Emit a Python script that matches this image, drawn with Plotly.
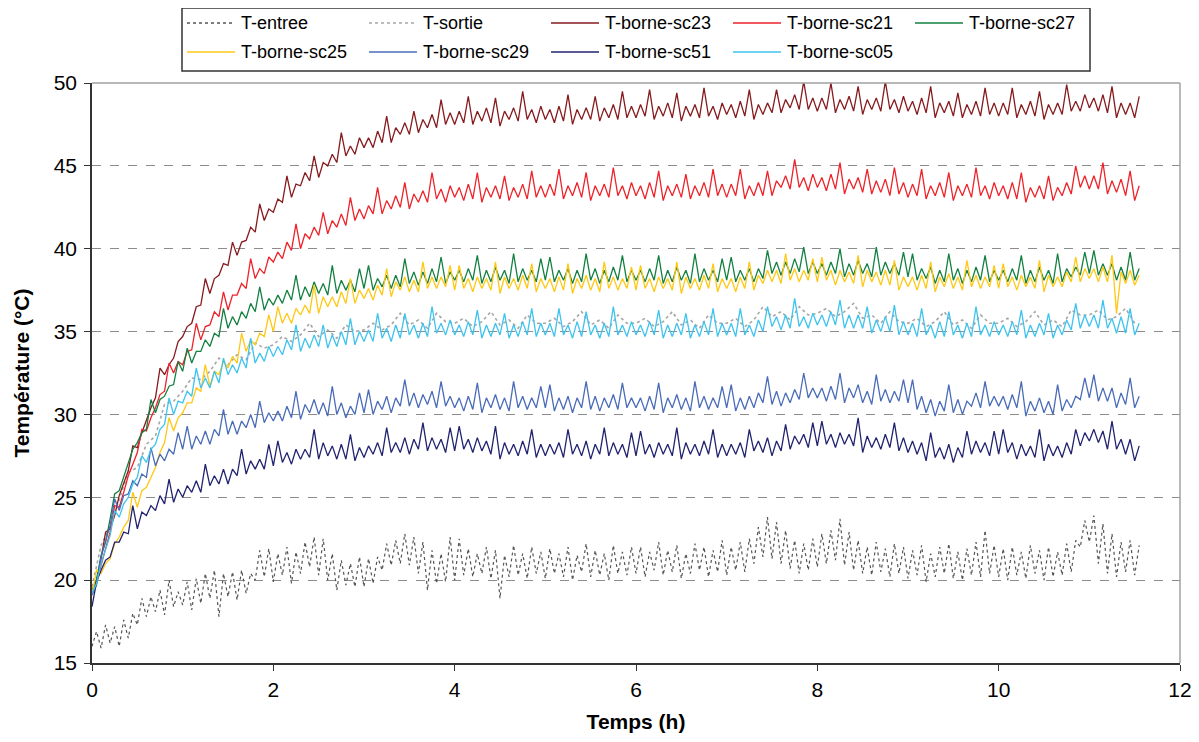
import plotly.graph_objects as go

# sampling times (hours), one reading cycle every 0.1 h from 0 to 11.5
hours = [i / 10 for i in range(116)]

# Each probe oscillates within every cycle: trough (low) then peak (high) values read per cycle
sc23_low = [19.2,21.3,23.1,25.1,26.6,28.0,29.7,31.0,32.4,33.4,
            34.7,35.5,36.6,37.3,38.4,39.0,39.6,40.5,41.0,41.7,
            42.2,42.8,43.1,43.8,44.1,44.3,45.0,45.2,45.6,45.7,
            46.1,46.1,46.4,46.4,46.9,46.9,47.0,47.3,47.3,47.5,
            47.5,47.6,47.5,47.7,47.6,47.4,47.8,47.7,47.8,47.6,
            47.8,47.6,47.7,47.5,47.8,47.8,47.7,47.9,47.8,47.9,
            47.9,48.0,47.8,48.0,47.9,47.7,48.0,47.9,48.0,47.8,
            48.1,47.9,48.0,47.8,48.1,48.2,48.2,48.5,48.4,48.4,
            48.3,48.4,48.2,48.4,48.3,48.1,48.4,48.3,48.4,48.2,
            48.3,48.1,48.2,47.9,48.2,48.0,47.9,48.1,48.0,48.1,
            48.0,48.1,47.9,48.1,48.0,47.8,48.1,48.1,48.3,48.3,
            48.5,48.3,48.2,47.9,48.1,47.9]
sc23_high = [20.0,22.9,23.9,25.9,28.1,28.9,30.4,32.8,33.0,34.4,
             35.3,36.5,38.2,38.2,39.1,40.4,40.4,41.3,42.7,42.4,
             43.0,44.4,43.9,44.6,45.6,45.2,45.7,47.0,46.2,46.7,
             46.7,47.1,48.0,47.3,47.6,48.3,47.8,48.1,49.0,48.2,
             48.3,49.2,48.3,48.5,49.1,48.3,48.5,49.5,48.4,48.6,
             48.4,48.6,49.3,48.4,48.5,49.2,48.5,48.7,49.5,48.6,
             48.7,49.6,48.6,48.8,49.4,48.6,48.7,49.7,48.6,48.8,
             48.7,48.9,49.6,48.7,48.8,49.6,49.0,49.3,50.1,49.1,
             49.1,50.0,49.0,49.2,49.8,49.0,49.1,50.1,49.0,49.2,
             48.9,49.1,49.8,48.8,48.9,49.4,48.7,48.9,49.7,48.8,
             48.8,49.7,48.7,48.9,49.5,48.7,48.8,49.9,48.9,49.3,
             49.1,49.3,49.8,48.8,48.8,49.2]

sc21_low = [19.2,20.9,22.9,24.4,26.3,27.7,29.0,30.4,31.4,32.5,
            33.0,33.9,34.5,35.4,35.9,36.3,37.2,37.6,38.2,38.5,
            39.2,39.4,39.9,40.0,40.6,40.8,40.9,41.3,41.4,41.7,
            41.8,42.1,42.1,42.4,42.5,42.4,42.8,42.8,43.0,42.8,
            43.1,42.9,43.0,42.8,43.1,43.0,42.9,43.1,43.0,43.1,
            43.1,43.2,43.0,43.2,43.1,42.9,43.2,43.1,43.2,43.0,
            43.2,43.0,43.1,42.9,43.2,43.1,43.0,43.2,43.1,43.2,
            43.1,43.2,43.0,43.2,43.2,43.2,43.7,43.6,43.7,43.5,
            43.7,43.5,43.6,43.3,43.6,43.4,43.3,43.4,43.2,43.3,
            43.1,43.2,43.0,43.2,43.1,42.9,43.2,43.1,43.2,43.0,
            43.2,43.0,43.0,42.8,43.1,43.0,42.9,43.2,43.3,43.7,
            43.6,43.6,43.3,43.4,43.2,42.9]
sc21_high = [19.8,21.9,24.5,25.3,27.0,29.1,29.8,31.2,33.1,33.2,
             33.8,35.5,35.3,36.2,37.4,37.2,37.9,39.4,38.8,39.5,
             39.8,40.4,41.5,40.9,41.3,42.2,41.7,42.1,43.1,42.4,
             42.6,43.7,42.9,43.2,44.0,43.3,43.5,44.6,43.6,43.8,
             43.7,43.9,44.6,43.7,43.8,44.4,43.7,43.9,44.7,43.8,
             43.9,44.8,43.8,44.0,44.6,43.8,43.9,44.9,43.8,44.0,
             43.8,44.0,44.7,43.8,43.9,44.5,43.8,44.0,44.8,43.9,
             43.9,44.8,43.8,44.0,44.7,44.1,44.4,45.4,44.3,44.5,
             44.3,44.5,45.2,44.2,44.3,44.8,44.1,44.2,44.9,44.0,
             43.9,44.8,43.8,44.0,44.6,43.8,43.9,44.9,43.8,44.0,
             43.8,44.0,44.6,43.7,43.8,44.4,43.7,44.0,45.0,44.4,
             44.4,45.2,44.1,44.2,44.7,43.8]

sc27_low = [19.4,21.5,23.7,25.4,27.0,28.3,29.1,30.1,31.1,31.8,
            32.6,33.1,33.8,34.1,34.7,35.2,35.4,35.8,36.2,36.3,
            36.6,36.7,36.9,36.9,37.1,37.3,37.2,37.3,37.5,37.4,
            37.6,37.5,37.7,37.6,37.7,37.9,37.8,37.9,38.0,37.9,
            38.1,38.0,38.1,37.9,38.0,38.1,37.9,38.0,38.1,38.0,
            38.1,38.0,38.1,37.9,38.0,38.1,37.9,38.0,38.1,38.0,
            38.1,38.0,38.1,37.9,38.0,38.1,37.9,38.0,38.1,38.0,
            38.1,38.0,38.1,38.0,38.2,38.5,38.4,38.5,38.6,38.5,
            38.5,38.4,38.5,38.3,38.4,38.5,38.3,38.4,38.5,38.4,
            38.3,38.1,38.2,37.9,38.0,38.1,37.9,38.0,38.1,38.0,
            38.1,38.0,38.1,37.9,38.0,38.1,37.9,38.0,38.3,38.4,
            38.5,38.4,38.4,38.1,38.1,38.1]
sc27_high = [20.0,22.3,25.2,26.2,27.9,28.9,30.9,30.9,31.7,33.2,
             34.0,33.8,34.5,34.9,36.4,35.9,36.2,36.7,37.7,37.0,
             37.2,37.5,38.4,37.7,38.0,37.9,39.0,38.1,38.1,38.8,
             39.0,38.2,38.4,38.4,39.4,38.6,38.6,38.8,39.5,38.6,
             38.7,38.8,39.6,38.7,38.9,38.7,39.7,38.8,38.7,39.4,
             39.5,38.7,38.8,38.7,39.7,38.8,38.7,38.9,39.6,38.7,
             38.7,38.8,39.6,38.7,38.9,38.7,39.7,38.8,38.7,39.4,
             39.5,38.7,38.8,38.8,39.9,39.2,39.2,39.4,40.1,39.2,
             39.1,39.2,40.0,39.1,39.3,39.1,40.1,39.2,39.1,39.8,
             39.7,38.8,38.9,38.7,39.7,38.8,38.7,38.9,39.6,38.7,
             38.7,38.8,39.6,38.7,38.9,38.7,39.7,38.8,38.9,39.8,
             39.9,39.1,39.1,38.9,39.8,38.8]

sc25_low = [19.1,20.4,21.3,22.6,23.6,24.4,25.6,26.8,28.3,29.0,
            30.1,30.7,31.4,31.7,32.4,32.8,33.1,33.8,34.2,34.7,
            35.0,35.5,35.5,36.0,36.1,36.1,36.5,36.5,36.7,36.7,
            37.0,36.9,37.2,37.1,37.5,37.4,37.4,37.6,37.6,37.7,
            37.5,37.6,37.4,37.6,37.5,37.3,37.6,37.5,37.6,37.4,
            37.6,37.4,37.5,37.3,37.6,37.5,37.4,37.6,37.5,37.6,
            37.5,37.6,37.4,37.6,37.5,37.3,37.6,37.5,37.6,37.4,
            37.6,37.4,37.6,37.5,37.9,38.0,37.9,38.1,38.0,38.1,
            38.0,38.1,37.8,38.0,37.9,37.7,38.0,37.8,37.8,37.5,
            37.7,37.5,37.6,37.4,37.7,37.6,37.5,37.7,37.6,37.7,
            37.6,37.7,37.5,37.7,37.6,37.4,37.7,37.7,38.0,38.0,
            38.2,38.0,38.0,36.1,37.9,37.8]
sc25_high = [20.6,21.0,22.2,23.2,25.3,25.4,26.2,27.7,29.8,29.8,
             30.7,31.6,33.0,32.6,33.2,33.5,34.9,34.5,34.9,36.0,
             36.5,36.1,36.4,36.6,37.8,37.1,37.1,37.4,38.2,37.5,
             37.6,37.8,38.8,38.0,38.3,38.1,39.2,38.3,38.3,39.0,
             39.0,38.2,38.3,38.2,39.2,38.3,38.2,38.4,39.1,38.2,
             38.2,38.3,39.1,38.2,38.4,38.2,39.2,38.3,38.2,38.9,
             39.0,38.2,38.3,38.2,39.2,38.3,38.2,38.4,39.1,38.2,
             38.2,38.3,39.2,38.4,38.7,38.7,39.7,38.8,38.7,39.4,
             39.5,38.7,38.7,38.6,39.6,38.7,38.6,38.7,39.3,38.3,
             38.3,38.4,39.2,38.3,38.5,38.3,39.3,38.4,38.3,39.0,
             39.1,38.3,38.4,38.3,39.3,38.4,38.3,38.6,39.5,38.8,
             38.8,38.9,39.6,38.6,38.7,38.4]

sc29_low = [19.1,21.4,23.3,24.2,25.2,25.7,26.2,26.9,27.2,27.6,
            27.9,27.9,28.2,28.2,28.7,28.8,28.8,29.2,29.2,29.5,
            29.6,29.6,29.8,29.7,30.1,30.0,29.9,30.0,29.8,30.0,
            30.1,30.0,30.3,30.1,30.5,30.5,30.4,30.6,30.4,30.5,
            30.4,30.2,30.3,30.1,30.4,30.3,30.2,30.4,30.3,30.4,
            30.4,30.2,30.3,30.1,30.4,30.3,30.2,30.4,30.3,30.4,
            30.4,30.2,30.3,30.1,30.4,30.3,30.2,30.4,30.3,30.4,
            30.4,30.2,30.3,30.4,30.7,30.6,30.5,30.7,30.9,31.0,
            31.0,30.8,30.9,30.7,31.0,30.7,30.6,30.8,30.7,30.8,
            30.7,30.3,30.1,29.9,30.2,30.1,30.0,30.5,30.4,30.5,
            30.5,30.3,30.4,29.9,30.2,30.1,30.0,30.2,30.4,30.9,
            31.0,30.8,30.8,30.4,30.6,30.4]
sc29_high = [19.7,22.3,24.9,25.1,26.0,26.4,28.0,27.6,27.9,28.9,
             29.3,28.7,29.0,29.1,30.3,29.6,29.6,30.0,30.8,30.1,
             30.2,30.5,31.4,30.6,30.9,30.7,31.7,30.7,30.5,31.3,
             31.5,30.8,31.1,31.0,32.1,31.3,31.2,31.4,32.0,31.1,
             31.0,31.1,31.9,31.0,31.2,31.0,32.0,31.1,31.0,31.7,
             31.8,31.0,31.1,31.0,32.0,31.1,31.0,31.2,31.9,31.0,
             31.0,31.1,31.9,31.0,31.2,31.0,32.0,31.1,31.0,31.7,
             31.8,31.0,31.1,31.3,32.3,31.4,31.3,31.5,32.5,31.6,
             31.6,31.7,32.5,31.6,31.8,31.4,32.4,31.5,31.4,32.1,
             32.1,31.1,30.9,30.8,31.8,30.9,30.8,31.3,32.0,31.1,
             31.1,31.2,32.0,30.8,31.0,30.8,31.8,30.9,31.1,32.2,
             32.4,31.6,31.6,31.3,32.2,31.1]

sc51_low = [18.4,20.6,21.4,22.3,22.8,23.1,23.9,24.2,24.6,24.7,
            25.0,25.3,25.3,25.7,25.8,25.8,26.3,26.4,26.7,26.7,
            26.9,27.1,27.0,27.3,27.4,27.3,27.5,27.3,27.3,27.2,
            27.4,27.6,27.5,27.7,27.7,27.6,27.9,27.8,27.9,27.7,
            27.8,27.9,27.7,27.8,27.6,27.3,27.6,27.5,27.6,27.4,
            27.5,27.6,27.4,27.6,27.5,27.3,27.6,27.5,27.6,27.4,
            27.5,27.6,27.4,27.6,27.5,27.3,27.6,27.5,27.6,27.4,
            27.5,27.6,27.4,27.8,27.7,27.5,27.8,27.9,28.2,28.0,
            28.1,28.2,28.0,28.2,28.1,27.7,28.0,27.9,28.0,27.8,
            27.7,27.6,27.2,27.4,27.3,27.1,27.4,27.6,27.7,27.5,
            27.6,27.7,27.3,27.5,27.4,27.2,27.5,27.4,27.6,28.1,
            28.4,28.3,27.9,27.9,27.6,27.2]
sc51_high = [19.9,21.2,22.3,22.9,24.5,24.1,24.5,25.1,26.1,25.5,
             25.7,26.0,27.0,26.3,26.7,26.7,27.9,27.2,27.3,28.2,
             28.4,27.7,27.9,27.9,29.1,28.3,28.1,28.2,28.8,28.0,
             28.1,28.3,29.2,28.3,28.6,28.5,29.5,28.6,28.5,29.2,
             29.3,28.5,28.6,28.4,29.3,28.3,28.2,28.4,29.1,28.2,
             28.2,28.3,29.1,28.2,28.4,28.2,29.2,28.3,28.2,28.9,
             29.0,28.2,28.3,28.2,29.2,28.3,28.2,28.4,29.1,28.2,
             28.2,28.3,29.1,28.4,28.6,28.4,29.4,28.7,28.8,29.5,
             29.6,28.8,28.9,28.8,29.8,28.7,28.6,28.8,29.5,28.6,
             28.4,28.3,28.9,28.0,28.2,28.0,29.0,28.4,28.3,29.0,
             29.1,28.3,28.2,28.1,29.1,28.2,28.1,28.3,29.1,28.9,
             29.1,29.0,29.6,28.5,28.5,28.1]

sc05_low = [19.2,21.0,22.7,23.8,25.0,26.2,27.1,28.2,29.4,30.0,
            30.7,31.1,31.6,31.6,31.9,32.4,32.5,32.8,33.1,33.2,
            33.5,33.6,33.9,33.8,34.0,34.1,34.0,34.1,34.2,34.2,
            34.4,34.4,34.6,34.4,34.6,34.8,34.6,34.7,34.9,34.8,
            34.8,34.7,34.8,34.6,34.7,34.8,34.6,34.7,34.8,34.7,
            34.8,34.7,34.8,34.6,34.7,34.8,34.6,34.7,34.8,34.7,
            34.8,34.7,34.8,34.6,34.7,34.8,34.6,34.7,34.8,34.7,
            34.8,34.7,34.8,34.7,35.0,35.3,35.1,35.2,35.3,35.2,
            35.4,35.3,35.4,35.2,35.2,35.2,34.9,35.0,35.0,34.8,
            34.8,34.7,34.8,34.6,34.7,34.8,34.6,34.7,34.8,34.7,
            34.8,34.7,34.8,34.6,34.7,34.8,34.6,34.8,35.1,35.2,
            35.3,35.2,35.2,34.9,34.9,34.8]
sc05_high = [19.8,21.9,24.2,24.6,25.8,27.5,27.9,29.1,31.0,30.8,
             31.4,32.8,32.2,32.6,33.4,33.0,33.4,34.6,33.7,34.1,
             34.1,34.5,35.4,34.6,34.8,35.4,34.8,35.0,35.8,35.0,
             35.1,36.1,35.2,35.4,36.1,35.4,35.5,36.5,35.5,35.7,
             35.4,35.6,36.3,35.4,35.5,36.1,35.4,35.6,36.4,35.5,
             35.5,36.4,35.4,35.6,36.2,35.4,35.5,36.5,35.4,35.6,
             35.4,35.6,36.3,35.4,35.5,36.1,35.4,35.6,36.4,35.5,
             35.5,36.4,35.4,35.7,36.5,35.9,36.0,37.0,35.9,36.1,
             36.0,36.2,36.9,36.0,36.0,36.5,35.7,35.9,36.6,35.6,
             35.5,36.4,35.4,35.6,36.2,35.4,35.5,36.5,35.4,35.6,
             35.4,35.6,36.3,35.4,35.5,36.1,35.4,35.7,36.7,36.0,
             36.0,36.9,35.8,35.9,36.4,35.5]

t_sortie = [19.6,22.1,23.2,24.8,26.5,26.8,28.2,28.7,30.6,30.8,
            31.4,32.2,32.1,32.6,33.4,33.0,33.6,33.3,34.3,34.0,
            34.2,34.7,34.4,34.8,35.5,34.7,35.1,34.6,35.4,35.0,
            35.1,35.5,35.1,35.4,36.1,35.4,35.7,35.2,36.1,35.6,
            35.5,35.8,35.3,35.6,36.2,35.4,35.7,35.2,36.0,35.5,
            35.5,35.8,35.3,35.6,36.2,35.4,35.7,35.2,36.0,35.5,
            35.5,35.8,35.3,35.6,36.2,35.4,35.7,35.2,36.0,35.5,
            35.5,35.8,35.3,35.7,36.5,35.9,36.2,35.7,36.5,36.0,
            36.1,36.4,35.9,36.2,36.7,35.8,36.0,35.5,36.2,35.6,
            35.5,35.8,35.3,35.6,36.2,35.4,35.7,35.2,36.0,35.5,
            35.5,35.8,35.3,35.6,36.2,35.4,35.7,35.3,36.3,36.0,
            36.0,36.3,35.7,35.9,36.4,35.5]

t_entree_low = [16.0,15.9,16.2,16.0,16.5,17.3,17.8,18.1,17.9,18.4,
                18.5,18.2,18.6,18.9,17.8,19.0,18.8,19.2,20.0,20.2,
                19.9,20.3,19.8,20.4,20.8,20.3,20.0,19.4,19.7,19.6,
                19.6,19.8,20.6,20.9,21.0,20.9,20.4,19.4,19.8,19.9,
                20.0,20.3,20.2,20.4,20.1,18.9,20.2,20.3,20.1,20.4,
                20.1,20.4,20.2,20.0,20.5,20.2,20.3,20.0,20.4,20.3,
                20.4,20.2,20.6,20.3,20.5,20.1,20.4,20.6,20.2,20.5,
                20.3,20.6,20.5,21.0,21.4,21.3,21.0,20.7,20.4,20.6,
                20.8,21.0,21.2,20.9,20.6,20.4,20.3,20.5,20.2,20.4,
                20.1,20.3,19.9,20.2,20.4,20.1,20.0,20.3,20.2,20.4,
                20.2,20.0,20.3,20.1,20.4,20.0,20.2,20.3,20.5,22.0,
                22.3,21.0,20.4,20.2,20.5,20.3]
t_entree_high = [16.9,17.3,17.2,17.6,18.0,18.9,19.0,19.4,20.0,19.3,
                 19.9,20.1,20.4,20.6,20.4,20.5,20.6,20.4,21.8,21.9,
                 21.6,22.0,21.7,22.3,22.6,22.5,21.6,21.2,21.0,21.4,
                 21.3,21.4,22.2,22.4,22.8,22.6,22.3,21.8,21.6,22.6,
                 22.5,21.9,21.6,22.0,21.8,21.5,22.1,21.6,22.0,21.7,
                 21.9,21.6,22.0,21.5,22.2,21.8,21.6,22.1,21.7,22.0,
                 22.0,21.7,22.3,21.8,22.1,21.6,22.2,22.0,21.8,22.4,
                 22.0,22.3,22.5,23.2,23.8,23.5,23.0,22.4,22.2,22.5,
                 22.8,23.0,23.7,22.9,22.4,22.0,22.3,21.9,22.2,22.0,
                 21.8,22.1,21.6,22.0,22.2,21.7,21.9,22.3,23.0,22.1,
                 21.9,22.0,21.7,22.1,21.8,22.0,21.7,22.2,22.4,23.6,
                 23.9,23.4,22.8,22.3,22.4,22.1]

x_ticks = [0, 2, 4, 6, 8, 10, 12]
y_ticks = [15, 20, 25, 30, 35, 40, 45, 50]

FONT = "Arial, Liberation Sans, sans-serif"


def cycle_trace(low, high):
    """Interleave trough (at t) and peak (at t + half cycle) readings."""
    xs, ys = [], []
    for h, lo, hi in zip(hours, low, high):
        xs += [h, h + 0.05]
        ys += [lo, hi]
    return xs, ys


series = [
    ("T-entree", *cycle_trace(t_entree_low, t_entree_high), "#555555", "dot", 1.2),
    ("T-sortie", hours, t_sortie, "#A6A6A6", "dot", 1.6),
    ("T-borne-sc23", *cycle_trace(sc23_low, sc23_high), "#861B1E", "solid", 1.3),
    ("T-borne-sc21", *cycle_trace(sc21_low, sc21_high), "#EE2229", "solid", 1.3),
    ("T-borne-sc27", *cycle_trace(sc27_low, sc27_high), "#138040", "solid", 1.3),
    ("T-borne-sc25", *cycle_trace(sc25_low, sc25_high), "#FFC814", "solid", 1.3),
    ("T-borne-sc29", *cycle_trace(sc29_low, sc29_high), "#4A6CB8", "solid", 1.3),
    ("T-borne-sc51", *cycle_trace(sc51_low, sc51_high), "#222370", "solid", 1.3),
    ("T-borne-sc05", *cycle_trace(sc05_low, sc05_high), "#3EC3EF", "solid", 1.3),
]

# figure geometry (page body adds an 8 px offset)
FIG_W, FIG_H = 1191, 726
ML, MR, MT, MB = 84, 19, 75, 71
PW, PH = FIG_W - ML - MR, FIG_H - MT - MB


def px_x(fx):
    return (fx - ML) / PW


def px_y(fy):
    return 1 + (MT - fy) / PH


fig = go.Figure()
for name, xs, ys, col, dash, w in series:
    fig.add_trace(go.Scatter(x=xs, y=ys, mode="lines", name=name, showlegend=False,
                             line=dict(color=col, width=w, dash=dash)))

# legend box built by hand: 5 entries per row
shapes = [
    dict(type="line", xref="paper", yref="paper", x0=0, x1=1, y0=1, y1=1,
         line=dict(color="#A0A0A0", width=1.5)),
    dict(type="line", xref="paper", yref="paper", x0=1, x1=1, y0=0, y1=1,
         line=dict(color="#A0A0A0", width=1.5)),
    dict(type="rect", xref="paper", yref="paper", x0=px_x(174), x1=px_x(1082),
         y0=px_y(63), y1=px_y(0), line=dict(color="#333333", width=1.5),
         fillcolor="rgba(0,0,0,0)"),
]
annotations = []
for i, (name, _, _, col, dash, w) in enumerate(series):
    row, colno = divmod(i, 5)
    fy = 15 + 29 * row
    fx = 179 + 182 * colno
    shapes.append(dict(type="line", xref="paper", yref="paper",
                       x0=px_x(fx), x1=px_x(fx + 48), y0=px_y(fy), y1=px_y(fy),
                       line=dict(color=col, width=1.5, dash=dash)))
    annotations.append(dict(text=name, xref="paper", yref="paper",
                            x=px_x(fx + 52), y=px_y(fy), xanchor="left", yanchor="middle",
                            showarrow=False, font=dict(family=FONT, size=18, color="black")))

fig.update_layout(
    width=FIG_W, height=FIG_H,
    margin=dict(l=ML, r=MR, t=MT, b=MB),
    paper_bgcolor="white", plot_bgcolor="white",
    font=dict(family=FONT, size=17, color="black"),
    showlegend=False,
    xaxis=dict(range=[0, 12], tickvals=x_ticks, ticks="outside", ticklen=6,
               tickcolor="#333", showline=True, linecolor="#333", linewidth=1.5,
               showgrid=False, zeroline=False, ticklabelstandoff=1, automargin=False,
               ticklabeloverflow="allow",
               title=dict(text="<b>Temps (h)</b>", font=dict(size=21), standoff=14),
               tickfont=dict(size=21)),
    yaxis=dict(range=[15, 50], tickvals=y_ticks, ticks="outside", ticklen=6,
               tickcolor="#333", showline=True, linecolor="#333", linewidth=1.5,
               showgrid=True, gridcolor="#8C8C8C", griddash="dash", gridwidth=1,
               zeroline=False, ticklabelstandoff=3, automargin=False,
               ticklabeloverflow="allow",
               title=dict(text="<b>Température (°C)</b>", font=dict(size=21), standoff=18),
               tickfont=dict(size=21)),
    shapes=shapes,
    annotations=annotations,
)

fig.write_html("out.html")
